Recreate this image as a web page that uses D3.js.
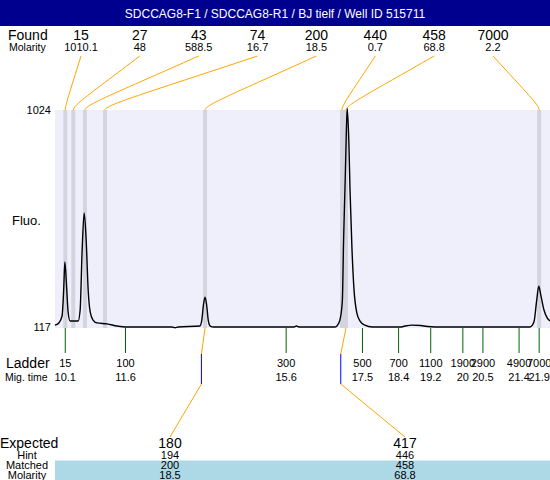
<!DOCTYPE html>
<html>
<head>
<meta charset="utf-8">
<script src="https://cdn.jsdelivr.net/npm/d3@7"></script>
<style>
  body { margin: 0; background: #fff; }
  svg { display: block; font-family: "Liberation Sans", Arial, sans-serif; }
</style>
</head>
<body>
<svg id="chart" width="550" height="480"></svg>
<script>
// peaks found in the sample
var foundSizes = ["15", "27", "43", "74", "200", "440", "458", "7000"];
var foundMolarity = ["1010.1", "48", "588.5", "16.7", "18.5", "0.7", "68.8", "2.2"];
var foundTimes = [10.1, 10.3, 10.59, 11.09, 13.58, 16.99, 17.09, 21.9];

// ladder
var ladderSizes = ["15", "100", "300", "500", "700", "1100", "1900", "2900", "4900", "7000"];
var ladderTimes = [10.1, 11.6, 15.6, 17.5, 18.4, 19.2, 20, 20.5, 21.4, 21.9];

// expected fragments
var expectedSizes = ["180", "417"];
var expectedHint = ["194", "446"];
var expectedMatched = ["200", "458"];
var expectedMolarity = ["18.5", "68.8"];
var expectedTimes = [13.49, 16.96];
var matchedPeak = [4, 6];

// electropherogram trace (mig. time, fluorescence)
var traceTime = [9.84, 9.94, 10.02, 10.06, 10.09, 10.13, 10.17, 10.22, 10.42, 10.47, 10.52, 10.57, 10.62, 10.67,
    10.72, 10.79, 10.89, 11.14, 11.39, 11.59, 12.76, 12.83, 12.91, 13.45, 13.5, 13.54, 13.58, 13.62, 13.66,
    13.71, 13.79, 15.78, 15.86, 15.93, 16.82, 16.9, 16.95, 17.0, 17.03, 17.07, 17.1, 17.12, 17.16, 17.19,
    17.24, 17.29, 17.36, 17.44, 17.56, 17.74, 18.44, 18.56, 18.73, 18.95, 19.11, 19.31, 21.67, 21.77,
    21.84, 21.89, 21.94, 22.02, 22.1, 22.17];
var traceFluo = [125, 134, 163, 272, 389, 293, 180, 142, 142, 188, 439, 594, 481, 272,
    180, 146, 134, 130, 121, 117, 117, 114, 117, 121, 146, 209, 242, 209, 146,
    121, 117, 117, 121, 117, 117, 130, 155, 230, 481, 731, 940, 1030, 898, 690,
    439, 272, 176, 142, 125, 117, 117, 121, 125, 123, 119, 117, 117, 138,
    230, 288, 251, 188, 155, 142];

var svg = d3.select("#chart");

var plotTop = 110, plotBottom = 328, plotLeft = 55, plotRight = 550;

var x = d3.scaleLinear().domain([9.844, 22.17]).range([plotLeft, plotRight]);
var y = d3.scaleLinear().domain([117, 1024]).range([327, 110]);
var foundX = d3.scaleLinear().domain([0, foundSizes.length - 1]).range([81, 493]);
var expX = d3.scaleLinear().domain([0, 1]).range([170, 405]);

// title bar
svg.append("rect")
    .attr("x", 0).attr("y", 0)
    .attr("width", 550).attr("height", 26)
    .attr("fill", "#00008f");

svg.append("text")
    .attr("x", 275).attr("y", 18)
    .attr("text-anchor", "middle")
    .attr("fill", "#fff")
    .attr("font-size", "12px")
    .text("SDCCAG8-F1 / SDCCAG8-R1  / BJ tielf / Well ID  515711");

// found row
svg.append("text").attr("x", 8).attr("y", 40).attr("font-size", "14px").text("Found");
svg.append("text").attr("x", 9).attr("y", 51).attr("font-size", "10.5px").text("Molarity");

svg.selectAll(".foundSize")
    .data(foundSizes)
    .enter().append("text")
    .attr("class", "foundSize")
    .attr("x", (d, i) => foundX(i))
    .attr("y", 40)
    .attr("text-anchor", "middle")
    .attr("font-size", "14px")
    .text(d => d);

svg.selectAll(".foundMol")
    .data(foundMolarity)
    .enter().append("text")
    .attr("class", "foundMol")
    .attr("x", (d, i) => foundX(i))
    .attr("y", 51)
    .attr("text-anchor", "middle")
    .attr("font-size", "11px")
    .text(d => d);

// plot background
svg.append("rect")
    .attr("x", plotLeft).attr("y", plotTop)
    .attr("width", plotRight - plotLeft).attr("height", plotBottom - plotTop)
    .attr("fill", "#efeffc");

// peak bands
svg.selectAll(".band")
    .data(foundTimes)
    .enter().append("rect")
    .attr("class", "band")
    .attr("x", d => x(d) - 2)
    .attr("y", plotTop)
    .attr("width", 4)
    .attr("height", plotBottom - plotTop)
    .attr("fill", "#d4d4e0");

// connectors from found labels to peaks
svg.selectAll(".foundLink")
    .data(foundTimes)
    .enter().append("path")
    .attr("class", "foundLink")
    .attr("fill", "none")
    .attr("stroke", "#ffa500")
    .attr("stroke-width", 1)
    .attr("d", function(d, i) {
        var x0 = foundX(i), y0 = 56, x1 = x(d), y1 = plotTop;
        return "M" + x0 + "," + y0 + "C" + (x1 + (x0 - x1) * 0.25) + "," + (y0 + 38) + " " + x1 + "," + (y1 - 5) + " " + x1 + "," + y1;
    });

// axis labels
svg.append("text").attr("x", 51).attr("y", 114).attr("text-anchor", "end").attr("font-size", "11px").text("1024");
svg.append("text").attr("x", 51).attr("y", 331).attr("text-anchor", "end").attr("font-size", "11px").text("117");
svg.append("text").attr("x", 12).attr("y", 225).attr("font-size", "13px").text("Fluo.");

// trace
var traceData = traceTime.map((t, i) => ({ t: t, v: traceFluo[i] }));
var lineDraw = d3.line()
    .x(d => x(d.t))
    .y(d => y(d.v))
    .curve(d3.curveMonotoneX);

svg.append("path")
    .datum(traceData)
    .attr("fill", "none")
    .attr("stroke", "#000")
    .attr("stroke-width", 1.4)
    .attr("d", lineDraw);

// ladder ticks and labels
svg.selectAll(".ladderTick")
    .data(ladderTimes)
    .enter().append("line")
    .attr("class", "ladderTick")
    .attr("x1", d => x(d)).attr("x2", d => x(d))
    .attr("y1", plotBottom).attr("y2", 353)
    .attr("stroke", "#006400")
    .attr("stroke-width", 1);

svg.append("text").attr("x", 6).attr("y", 368).attr("font-size", "14px").text("Ladder");
svg.append("text").attr("x", 5).attr("y", 381).attr("font-size", "10.5px").text("Mig. time");

svg.selectAll(".ladderSize")
    .data(ladderSizes)
    .enter().append("text")
    .attr("class", "ladderSize")
    .attr("x", (d, i) => x(ladderTimes[i]))
    .attr("y", 367)
    .attr("text-anchor", "middle")
    .attr("font-size", "11px")
    .text(d => d);

svg.selectAll(".ladderTime")
    .data(ladderTimes)
    .enter().append("text")
    .attr("class", "ladderTime")
    .attr("x", d => x(d))
    .attr("y", 381)
    .attr("text-anchor", "middle")
    .attr("font-size", "11px")
    .text(d => d);

// expected table
svg.append("rect")
    .attr("x", plotLeft).attr("y", 460.5)
    .attr("width", plotRight - plotLeft).attr("height", 20)
    .attr("fill", "#add8e6");

var rowLabels = [
    { text: "Expected", y: 448, size: "14px", x: 0, anchor: "start" },
    { text: "Hint", y: 459, size: "11px", x: 27, anchor: "middle" },
    { text: "Matched", y: 469, size: "11px", x: 27, anchor: "middle" },
    { text: "Molarity", y: 479, size: "11px", x: 27, anchor: "middle" }
];
svg.selectAll(".rowLabel")
    .data(rowLabels)
    .enter().append("text")
    .attr("class", "rowLabel")
    .attr("x", d => d.x)
    .attr("y", d => d.y)
    .attr("text-anchor", d => d.anchor)
    .attr("font-size", d => d.size)
    .text(d => d.text);

var rows = [
    { vals: expectedSizes, y: 448, size: "14px" },
    { vals: expectedHint, y: 459, size: "11px" },
    { vals: expectedMatched, y: 469, size: "11px" },
    { vals: expectedMolarity, y: 479, size: "11px" }
];
rows.forEach(function(r) {
    svg.append("g").selectAll("text")
        .data(r.vals)
        .enter().append("text")
        .attr("x", (d, i) => expX(i))
        .attr("y", r.y)
        .attr("text-anchor", "middle")
        .attr("font-size", r.size)
        .text(d => d);
});

// links from matched peaks to expected columns
expectedTimes.forEach(function(t, i) {
    var xp = x(foundTimes[matchedPeak[i]]), xe = x(t), xl = expX(i);
    svg.append("line")
        .attr("x1", xp).attr("y1", plotBottom)
        .attr("x2", xe).attr("y2", 354)
        .attr("stroke", "#ffa500");
    svg.append("line")
        .attr("x1", xe).attr("y1", 354)
        .attr("x2", xe).attr("y2", 384)
        .attr("stroke", "#0000ff");
    svg.append("line")
        .attr("x1", xe).attr("y1", 384)
        .attr("x2", xl).attr("y2", 437)
        .attr("stroke", "#ffa500");
});
</script>
</body>
</html>
